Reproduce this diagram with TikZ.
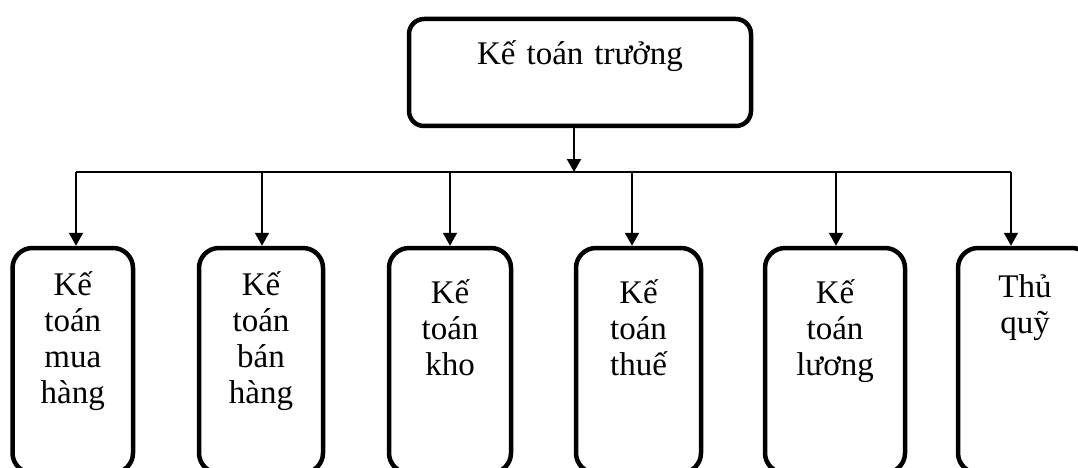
\documentclass[tikz,border=0pt]{standalone}
\usepackage{fontspec}
\setmainfont{Liberation Serif}
\usetikzlibrary{arrows.meta}
\begin{document}
\begin{tikzpicture}[x=1pt,y=-1pt,
  box/.style={draw, line width=4.5pt, rounded corners=20pt, inner sep=0pt, minimum height=225pt},
  lbl/.style={anchor=base, text width=130pt, align=center, inner sep=0pt, font=\fontsize{33}{36}\selectfont},
  link/.style={line width=2pt},
  arr/.style={link, -{Triangle[width=14pt,length=13pt]}}]
\clip (0,0) rectangle (1078,468);
% top box
\node[box, minimum width=342pt, minimum height=107pt, rounded corners=15pt] (top) at (580,72.5) {};
\node[lbl, text width=320pt] (ttop) at (580,65) {Kế toán trưởng};
% bottom boxes
\node[box, minimum width=120.5pt] (b1) at (72.75,360.5) {};
\node[box, minimum width=124pt] (b2) at (261,360.5) {};
\node[box, minimum width=122pt] (b3) at (450,360.5) {};
\node[box, minimum width=125pt] (b4) at (638.5,360.5) {};
\node[box, minimum width=140pt] (b5) at (835,360.5) {};
\node[box, minimum width=134pt] (b6) at (1025,360.5) {};
\node[lbl] (t1) at (72.75,295) {Kế\\toán\\mua\\hàng};
\node[lbl] (t2) at (261,295) {Kế\\toán\\bán\\hàng};
\node[lbl] (t3) at (450,303) {Kế\\toán\\kho};
\node[lbl] (t4) at (638.5,303) {Kế\\toán\\thuế};
\node[lbl] (t5) at (835,303) {Kế\\toán\\lương};
\node[lbl] (t6) at (1025,297) {Thủ\\quỹ};
% connectors
\coordinate (m) at (574,172);
\coordinate (d1) at (76,172);
\coordinate (d2) at (262,172);
\coordinate (d3) at (450,172);
\coordinate (d4) at (632,172);
\coordinate (d5) at (836,172);
\coordinate (d6) at (1011,172);
\draw[link] (d1) -- (d6);
\draw[arr] (top.south -| m) -- (m);
\draw[arr] (d1) -- (d1 |- b1.north);
\draw[arr] (d2) -- (d2 |- b2.north);
\draw[arr] (d3) -- (d3 |- b3.north);
\draw[arr] (d4) -- (d4 |- b4.north);
\draw[arr] (d5) -- (d5 |- b5.north);
\draw[arr] (d6) -- (d6 |- b6.north);
\end{tikzpicture}
\end{document}
